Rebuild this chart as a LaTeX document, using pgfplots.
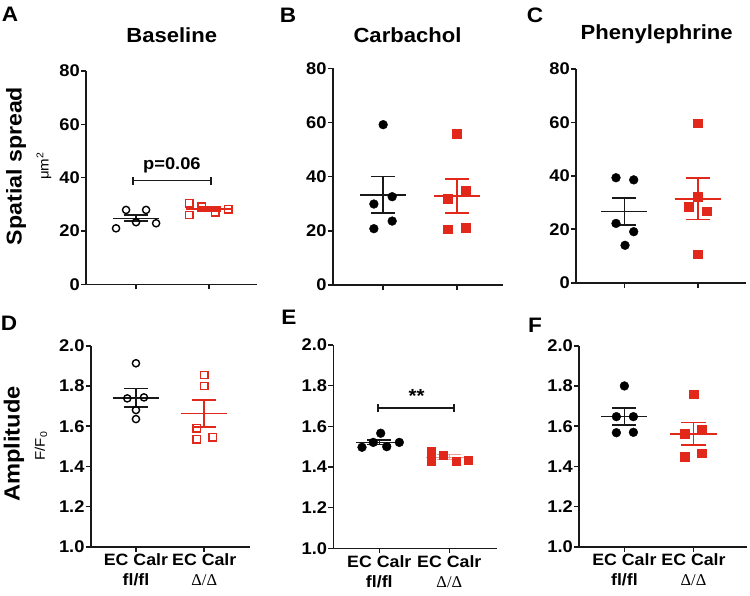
\documentclass[border=0pt]{standalone}
\usepackage{fontspec}
\setmainfont{Liberation Sans}[FakeStretch=1.08]
\newfontfamily\serifDelta{Liberation Serif}
\usepackage{pgfplots}
\pgfplotsset{compat=1.18}
\definecolor{myred}{RGB}{226,40,26}
\definecolor{axcol}{RGB}{25,25,25}

% mean +/- SEM: color, x, mean, lo, hi, mean half width, cap half width
\newcommand{\msem}[7]{%
 \pgfmathsetmacro\mA{#2-#6}\pgfmathsetmacro\mB{#2+#6}%
 \pgfmathsetmacro\cA{#2-#7}\pgfmathsetmacro\cB{#2+#7}%
 \edef\tmp{%
  \noexpand\addplot[#1] coordinates {(\mA,#3) (\mB,#3)};
  \noexpand\addplot[#1] coordinates {(#2,#4) (#2,#5)};
  \noexpand\addplot[#1] coordinates {(\cA,#4) (\cB,#4)};
  \noexpand\addplot[#1] coordinates {(\cA,#5) (\cB,#5)};}%
 \tmp}
% bracket: x1, x2, y, end tick half length
\newcommand{\bracket}[4]{%
 \pgfmathsetmacro\bA{#3-#4}\pgfmathsetmacro\bB{#3+#4}%
 \edef\tmp{%
  \noexpand\addplot[axcol,line width=1.6bp] coordinates {(#1,#3) (#2,#3)};
  \noexpand\addplot[axcol,line width=1.6bp] coordinates {(#1,\bA) (#1,\bB)};
  \noexpand\addplot[axcol,line width=1.6bp] coordinates {(#2,\bA) (#2,\bB)};}%
 \tmp}

\pgfplotsset{
 panel/.style={
  scale only axis,
  anchor=south west,
  axis x line*=bottom, axis y line*=left,
  axis line style={-, line width=1.6bp, axcol},
  every outer x axis line/.append style={-},
  every outer y axis line/.append style={-},
  tick style={line width=1.6bp, axcol},
  major tick length=5bp,
  tick align=outside,
  xtick={0,1},
  ticklabel style={font=\fontsize{17}{20}\selectfont\bfseries, inner sep=1bp},
  /pgf/number format/assume math mode=true,
  clip=false,
 },
 toprow/.style={ymin=0,ymax=80,ytick={0,20,40,60,80}, xticklabels={}},
 botrow/.style={ymin=1,ymax=2,ytick={1,1.2,1.4,1.6,1.8,2},
  yticklabel style={/pgf/number format/.cd,fixed,fixed zerofill,precision=1},
  xticklabels={{EC Calr\\fl/fl},{EC Calr\\{\serifDelta\mdseries Δ/Δ}}},
  xticklabel style={align=center, inner sep=2bp, font=\fontsize{16.5}{20}\selectfont\bfseries}},
 ocirc/.style={only marks, mark=o, mark size=3.6bp, line width=1.4bp, black},
 fcirc/.style={only marks, mark=*, mark size=4.4bp, black, mark options={fill=black}},
 osq/.style={only marks, mark=square, mark size=3.7bp, line width=1.4bp, myred},
 fsq/.style={only marks, mark=square*, mark size=4.3bp, myred, mark options={fill=myred}},
 blk/.style={axcol, line width=1.6bp},
 red/.style={myred, line width=1.6bp},
}

\begin{document}
\begin{tikzpicture}
\useasboundingbox (0,0) rectangle (750bp,-596bp);

% ---------- A ----------
\begin{axis}[panel, toprow, at={(86bp,-284.3bp)}, width=171.3bp, height=213.3bp, xmin=-0.685, xmax=1.658]
\addplot[ocirc] coordinates {(-0.274,21.0) (-0.137,27.9) (0,23.3) (0.137,27.9) (0.274,22.9)};
\addplot[osq] coordinates {(0.73,30.4) (0.73,26.0) (0.90,29.1) (1.082,27.0) (1.264,28.1)};
\msem{blk}{0}{24.75}{23.7}{26.0}{0.315}{0.164}
\msem{red}{1}{28.2}{27.5}{28.9}{0.315}{0.164}
\bracket{-0.041}{1.023}{38.9}{1.5}
\node[font=\fontsize{17}{20}\selectfont\bfseries] at (axis cs:0.49,44.7) {p=0.06};
\end{axis}

% ---------- B ----------
\begin{axis}[panel, toprow, at={(332.7bp,-285bp)}, width=170bp, height=216.7bp, xmin=-0.684, xmax=1.62]
\addplot[fcirc] coordinates {(0,59.2) (-0.126,29.9) (0.122,32.6) (-0.126,20.8) (0.122,23.6)};
\addplot[fsq] coordinates {(1,55.9) (0.878,31.8) (1.122,34.8) (0.878,20.6) (1.122,21.1)};
\msem{blk}{0}{33.2}{26.5}{40.1}{0.311}{0.162}
\msem{red}{1}{32.9}{26.5}{39.1}{0.311}{0.162}
\end{axis}

% ---------- C ----------
\begin{axis}[panel, toprow, at={(576bp,-282.7bp)}, width=170bp, height=213.7bp, xmin=-0.658, xmax=1.658]
\addplot[fcirc] coordinates {(-0.113,39.3) (0.128,38.5) (-0.113,22.2) (0.128,19.1) (0.01,14.0)};
\addplot[fsq] coordinates {(1,59.7) (1,32.2) (0.877,28.5) (1.123,26.7) (1,10.7)};
\msem{blk}{0}{26.6}{21.5}{31.7}{0.313}{0.163}
\msem{red}{1}{31.3}{23.6}{39.3}{0.313}{0.163}
\end{axis}

% ---------- D ----------
\begin{axis}[panel, botrow, at={(90.7bp,-546.7bp)}, width=159.3bp, height=200.7bp, xmin=-0.663, xmax=1.67]
\addplot[ocirc] coordinates {(0,1.914) (-0.127,1.739) (0.117,1.744) (0,1.681) (0,1.636)};
\addplot[osq] coordinates {(1,1.856) (1,1.801) (0.887,1.590) (0.887,1.535) (1.122,1.545)};
\msem{blk}{0}{1.742}{1.695}{1.789}{0.337}{0.176}
\msem{red}{1}{1.663}{1.596}{1.732}{0.337}{0.176}
\end{axis}

% ---------- E ----------
\begin{axis}[panel, botrow, at={(333.3bp,-548.3bp)}, width=163.4bp, height=203.3bp, xmin=-0.657, xmax=1.677]
\addplot[fcirc] coordinates {(-0.247,1.497) (-0.086,1.521) (0.02,1.566) (0.106,1.500) (0.286,1.521)};
\addplot[fsq] coordinates {(0.743,1.476) (0.743,1.429) (0.91,1.457) (1.1,1.429) (1.271,1.433)};
\msem{blk}{0}{1.521}{1.511}{1.532}{0.329}{0.171}
\msem{{myred!45!white, line width=1bp}}{1}{1.448}{1.437}{1.459}{0.329}{0.171}
\bracket{-0.019}{1.071}{1.689}{0.02}
\node[font=\fontsize{19}{20}\selectfont\bfseries] at (axis cs:0.534,1.75) {**};
\end{axis}

% ---------- F ----------
\begin{axis}[panel, botrow, at={(579bp,-546.7bp)}, width=167.7bp, height=200.7bp, xmin=-0.657, xmax=1.77]
\addplot[fcirc] coordinates {(0,1.801) (-0.116,1.648) (0.13,1.648) (-0.116,1.568) (0.13,1.570)};
\addplot[fsq] coordinates {(1,1.759) (0.874,1.562) (1.122,1.585) (0.874,1.448) (1.122,1.465)};
\msem{blk}{0}{1.648}{1.606}{1.690}{0.333}{0.174}
\msem{red}{1}{1.563}{1.508}{1.618}{0.333}{0.174}
\end{axis}

% ---------- texts ----------
\begin{scope}[every node/.style={inner sep=0pt}]
\node[font=\fontsize{21}{24}\selectfont\bfseries] at (10bp,-14bp) {A};
\node[font=\fontsize{21}{24}\selectfont\bfseries] at (288bp,-15bp) {B};
\node[font=\fontsize{21}{24}\selectfont\bfseries] at (535bp,-15bp) {C};
\node[font=\fontsize{21}{24}\selectfont\bfseries] at (9bp,-323bp) {D};
\node[font=\fontsize{21}{24}\selectfont\bfseries] at (289bp,-317.5bp) {E};
\node[font=\fontsize{21}{24}\selectfont\bfseries] at (535bp,-325bp) {F};
\node[font=\fontsize{20.5}{24}\selectfont\bfseries] at (171.7bp,-35bp) {Baseline};
\node[font=\fontsize{20.5}{24}\selectfont\bfseries] at (407.5bp,-35bp) {Carbachol};
\node[font=\fontsize{20.5}{24}\selectfont\bfseries] at (656.7bp,-34bp) {Phenylephrine};
\node[font=\fontsize{21.5}{24}\selectfont\bfseries, rotate=90] at (16bp,-166bp) {Spatial spread};
\node[font=\fontsize{14}{16}\selectfont, rotate=90] at (44bp,-166bp) {μm\textsuperscript{2}};
\node[font=\fontsize{22}{24}\selectfont\bfseries, rotate=90] at (14bp,-444bp) {Amplitude};
\node[font=\fontsize{14}{16}\selectfont, rotate=90] at (41bp,-446bp) {F/F\textsubscript{0}};
\end{scope}
\end{tikzpicture}
\end{document}
